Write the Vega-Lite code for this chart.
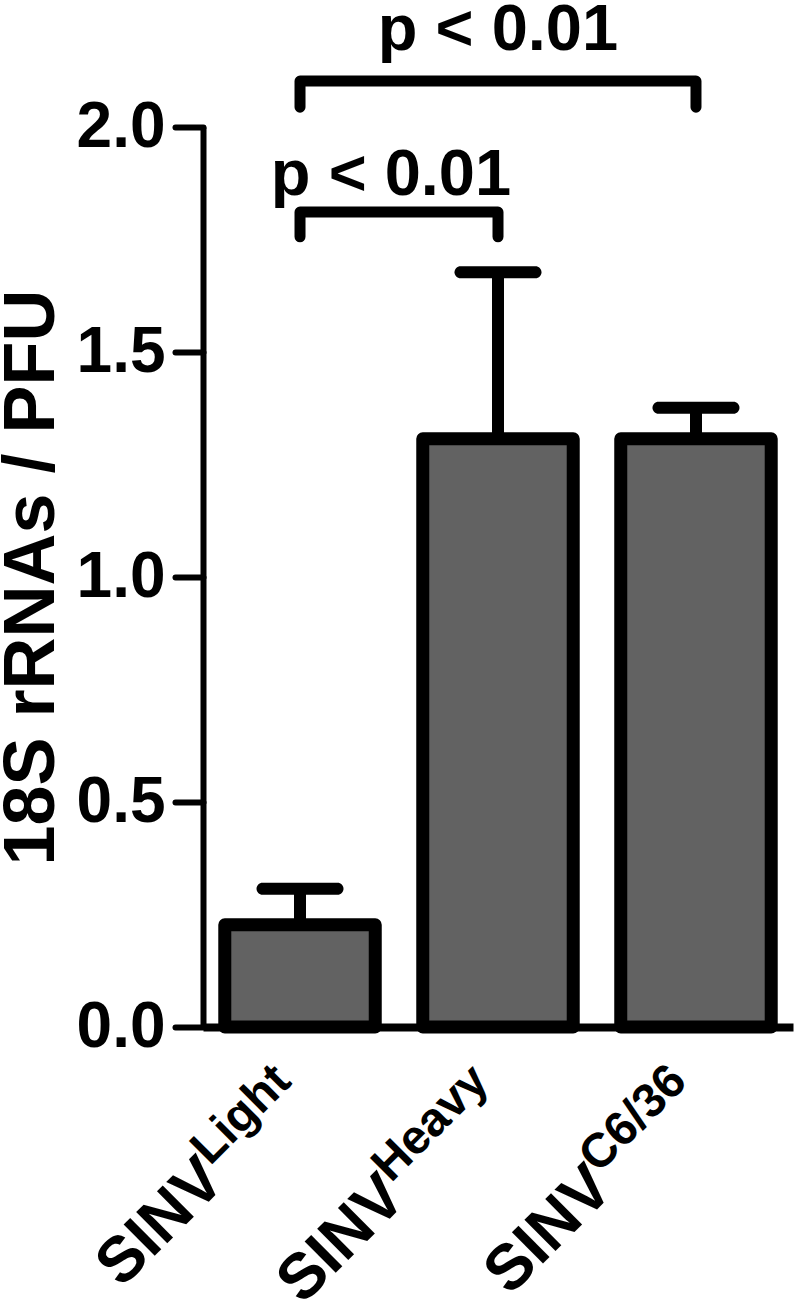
{
  "$schema": "https://vega.github.io/schema/vega-lite/v6.json",
  "width": 590,
  "height": 900,
  "autosize": {"type": "none"},
  "padding": {"left": 203, "top": 127, "right": 7, "bottom": 279},
  "background": "white",
  "config": {"view": {"stroke": null}, "font": "Liberation Sans"},
  "datasets": {
    "bars": [
      {"g": "Light", "mean": 0.227, "hi": 0.307, "sup": "Light"},
      {"g": "Heavy", "mean": 1.307, "hi": 1.677, "sup": "Heavy"},
      {"g": "C6/36", "mean": 1.307, "hi": 1.376, "sup": "C6/36"}
    ],
    "brackets": [
      {"pair": "inner", "g": "Light", "y": 1.756, "ord": 1},
      {"pair": "inner", "g": "Light", "y": 1.811, "ord": 2},
      {"pair": "inner", "g": "Heavy", "y": 1.811, "ord": 3},
      {"pair": "inner", "g": "Heavy", "y": 1.756, "ord": 4},
      {"pair": "outer", "g": "Light", "y": 2.044, "ord": 1},
      {"pair": "outer", "g": "Light", "y": 2.102, "ord": 2},
      {"pair": "outer", "g": "C6/36", "y": 2.102, "ord": 3},
      {"pair": "outer", "g": "C6/36", "y": 2.044, "ord": 4}
    ],
    "pvals": [
      {"pair": "inner", "g": "Light", "y": 1.849, "label": "p < 0.01"},
      {"pair": "outer", "g": "Heavy", "y": 2.171, "label": "p < 0.01"}
    ]
  },
  "layer": [
    {
      "data": {"name": "bars"},
      "mark": {"type": "bar", "fill": "#626262", "stroke": "black", "strokeWidth": 13, "strokeJoin": "round"},
      "encoding": {
        "x": {
          "field": "g", "type": "nominal",
          "scale": {"domain": ["Light", "Heavy", "C6/36"], "paddingInner": 0.24, "paddingOuter": 0.11},
          "axis": {"title": null, "labels": false, "ticks": false, "domainColor": "black", "domainWidth": 8, "grid": false}
        },
        "y": {
          "field": "mean", "type": "quantitative",
          "scale": {"domain": [0, 2]},
          "axis": {
            "title": "18S rRNAs / PFU",
            "values": [0, 0.5, 1, 1.5, 2],
            "format": ".1f",
            "grid": false,
            "domainColor": "black", "domainWidth": 6,
            "tickColor": "black", "tickWidth": 6, "tickSize": 28, "tickCap": "round",
            "labelFont": "Liberation Sans", "labelFontSize": 64, "labelFontWeight": "bold", "labelColor": "black",
            "labelPadding": 10, "labelOverlap": false, "labelFlush": false,
            "titleFont": "Liberation Sans", "titleFontSize": 72, "titleFontWeight": "bold", "titleColor": "black",
            "titleX": -150, "titleY": 450, "titleAngle": 270, "titleBaseline": "alphabetic", "titleAlign": "center"
          }
        }
      }
    },
    {
      "data": {"name": "bars"},
      "mark": {"type": "rule", "strokeWidth": 12, "color": "black"},
      "encoding": {
        "x": {"field": "g", "type": "nominal"},
        "y": {"field": "mean", "type": "quantitative"},
        "y2": {"field": "hi"}
      }
    },
    {
      "data": {"name": "bars"},
      "mark": {"type": "tick", "thickness": 12, "cornerRadius": 6, "color": "black", "opacity": 1},
      "encoding": {
        "x": {"field": "g", "type": "nominal"},
        "y": {"field": "hi", "type": "quantitative"},
        "size": {"value": 87}
      }
    },
    {
      "data": {"name": "brackets"},
      "mark": {"type": "line", "color": "black", "strokeWidth": 11, "strokeCap": "round", "strokeJoin": "round"},
      "encoding": {
        "x": {"field": "g", "type": "nominal"},
        "y": {"field": "y", "type": "quantitative"},
        "detail": {"field": "pair"},
        "order": {"field": "ord"}
      }
    },
    {
      "data": {"name": "pvals"},
      "transform": [{"filter": "datum.pair == 'inner'"}],
      "mark": {"type": "text", "font": "Liberation Sans", "fontSize": 65, "fontWeight": "bold", "color": "black", "align": "center", "baseline": "alphabetic", "dx": 91},
      "encoding": {
        "x": {"field": "g", "type": "nominal"},
        "y": {"field": "y", "type": "quantitative"},
        "text": {"field": "label"}
      }
    },
    {
      "data": {"name": "pvals"},
      "transform": [{"filter": "datum.pair == 'outer'"}],
      "mark": {"type": "text", "font": "Liberation Sans", "fontSize": 65, "fontWeight": "bold", "color": "black", "align": "center", "baseline": "alphabetic"},
      "encoding": {
        "x": {"field": "g", "type": "nominal"},
        "y": {"field": "y", "type": "quantitative"},
        "text": {"field": "label"}
      }
    },
    {
      "data": {"name": "bars"},
      "mark": {"type": "text", "font": "Liberation Sans", "fontSize": 48, "fontWeight": "bold", "color": "black", "angle": 315, "align": "right", "baseline": "alphabetic", "dx": -45, "dy": 35},
      "encoding": {
        "x": {"field": "g", "type": "nominal"},
        "y": {"datum": 0, "type": "quantitative"},
        "text": {"field": "sup"}
      }
    },
    {
      "data": {"name": "bars"},
      "transform": [{"filter": "datum.g == 'Light'"}],
      "mark": {"type": "text", "font": "Liberation Sans", "fontSize": 64, "fontWeight": "bold", "color": "black", "angle": 315, "align": "right", "baseline": "alphabetic", "dx": -162, "dy": 59, "text": "SINV"},
      "encoding": {
        "x": {"field": "g", "type": "nominal"},
        "y": {"datum": 0, "type": "quantitative"}
      }
    },
    {
      "data": {"name": "bars"},
      "transform": [{"filter": "datum.g == 'Heavy'"}],
      "mark": {"type": "text", "font": "Liberation Sans", "fontSize": 64, "fontWeight": "bold", "color": "black", "angle": 315, "align": "right", "baseline": "alphabetic", "dx": -186, "dy": 59, "text": "SINV"},
      "encoding": {
        "x": {"field": "g", "type": "nominal"},
        "y": {"datum": 0, "type": "quantitative"}
      }
    },
    {
      "data": {"name": "bars"},
      "transform": [{"filter": "datum.g == 'C6/36'"}],
      "mark": {"type": "text", "font": "Liberation Sans", "fontSize": 64, "fontWeight": "bold", "color": "black", "angle": 315, "align": "right", "baseline": "alphabetic", "dx": -173, "dy": 59, "text": "SINV"},
      "encoding": {
        "x": {"field": "g", "type": "nominal"},
        "y": {"datum": 0, "type": "quantitative"}
      }
    }
  ]
}
